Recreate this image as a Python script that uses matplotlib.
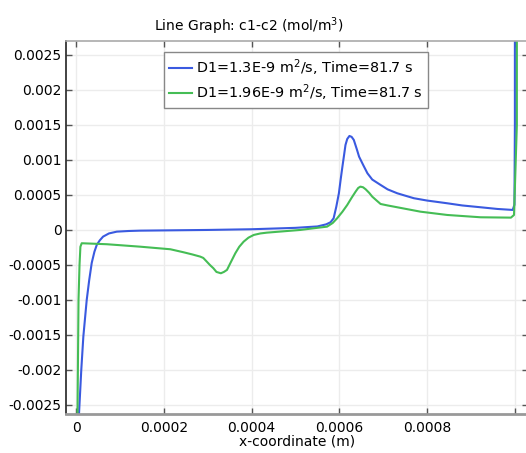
import matplotlib
matplotlib.use('Agg')
import matplotlib.pyplot as plt

# D1=1.3E-9 m^2/s curve
x_blue = [0.0000062, 0.0000068, 0.0000120, 0.0000167, 0.0000244, 0.0000300, 0.0000358,
          0.0000420, 0.0000473, 0.000054, 0.0000616, 0.000075, 0.0000929, 0.00012,
          0.000146, 0.00030, 0.00040, 0.00050, 0.00055, 0.00057, 0.00058, 0.000587,
          0.000593, 0.000599, 0.000603, 0.000607, 0.000611, 0.000614, 0.000618,
          0.000623, 0.000628, 0.000633, 0.00064, 0.000645, 0.000655, 0.000664,
          0.000675, 0.000694, 0.00071, 0.000732, 0.00075, 0.00077, 0.0008, 0.000846,
          0.00088, 0.000922, 0.00096, 0.000995, 0.000999, 0.0010, 0.0010]
y_blue = [-0.0030, -0.00263, -0.0020, -0.001524, -0.0010, -0.00072, -0.000471,
          -0.00031, -0.000214, -0.00015, -0.0000957, -0.00005, -0.0000243, -0.000015,
          -0.00001, 0.0, 0.00001, 0.00003, 0.00005, 0.00008, 0.00011, 0.000167,
          0.00033, 0.000524, 0.00072, 0.000904, 0.00108, 0.001214, 0.0013,
          0.001343, 0.00133, 0.001286, 0.00115, 0.001047, 0.00092, 0.00081,
          0.00072, 0.000643, 0.00058, 0.000524, 0.00049, 0.000453, 0.00042, 0.000381,
          0.00035, 0.000324, 0.0003, 0.000286, 0.00036, 0.0015, 0.0030]

# D1=1.96E-9 m^2/s curve
x_green = [0.0000030, 0.0000034, 0.0000057, 0.0000080, 0.0000100, 0.000013, 0.00007,
           0.000146, 0.000215, 0.000245, 0.000265, 0.000283, 0.00029, 0.000298,
           0.000305, 0.000313, 0.00032, 0.00033, 0.000337, 0.000344, 0.000352,
           0.000363, 0.000372, 0.000382, 0.000393, 0.000405, 0.00042, 0.000435,
           0.000511, 0.000542, 0.000572, 0.000585, 0.000595, 0.000607, 0.000618,
           0.000628, 0.000637, 0.000643, 0.000648, 0.000654, 0.00066, 0.000668,
           0.000675, 0.000685, 0.000694, 0.00071, 0.000732, 0.000785, 0.000846,
           0.000922, 0.000991, 0.000998, 0.0010045, 0.0010045]
y_green = [-0.0030, -0.00263, -0.0010, -0.0005, -0.00024, -0.00019, -0.000204,
           -0.000239, -0.000276, -0.000319, -0.00035, -0.000381, -0.0004, -0.000453,
           -0.0005, -0.000547, -0.0006, -0.000619, -0.0006, -0.000571, -0.00047,
           -0.000333, -0.00024, -0.000167, -0.00011, -0.0000714, -0.00005, -0.0000386,
           0.0, 0.0000243, 0.0000471, 0.0001, 0.000167, 0.00026, 0.000357,
           0.00046, 0.000547, 0.0006, 0.000619, 0.00061, 0.000581, 0.00053,
           0.000476, 0.00042, 0.000371, 0.00035, 0.000324, 0.000261, 0.000214,
           0.000181, 0.000176, 0.000214, 0.0015, 0.0030]

x_ticks = [0, 0.0002, 0.0004, 0.0006, 0.0008, 0.001]
x_labels = ['0', '0.0002', '0.0004', '0.0006', '0.0008', '']
y_ticks = [0.0025, 0.002, 0.0015, 0.001, 0.0005, 0, -0.0005, -0.001, -0.0015, -0.002, -0.0025]
y_labels = ['0.0025', '0.002', '0.0015', '0.001', '0.0005', '0', '-0.0005', '-0.001',
            '-0.0015', '-0.002', '-0.0025']

fig = plt.figure(figsize=(5.26, 4.53), dpi=100)
ax = fig.add_axes([0.1249, 0.0861, 0.879, 0.8234])

ax.plot(x_blue, y_blue, color='#3a5ae0', linewidth=1.5, label='D1=1.3E-9 m$^2$/s, Time=81.7 s')
ax.plot(x_green, y_green, color='#45bd55', linewidth=1.5, label='D1=1.96E-9 m$^2$/s, Time=81.7 s')

ax.set_xlim(-0.0000235, 0.00103)
ax.set_ylim(-0.00263, 0.0027)
ax.set_xticks(x_ticks)
ax.set_xticklabels(x_labels)
ax.set_yticks(y_ticks)
ax.set_yticklabels(y_labels)
ax.grid(True, color='#ececec', linewidth=1)
ax.set_axisbelow(True)

ax.tick_params(axis='both', direction='in', length=4, width=1, color='#555555',
               labelsize=10, top=True, right=True)
ax.tick_params(axis='x', pad=5)
ax.tick_params(axis='y', pad=3)

ax.spines['left'].set_color('#222222')
ax.spines['left'].set_linewidth(1.2)
ax.spines['bottom'].set_color('#999999')
ax.spines['bottom'].set_linewidth(2)
ax.spines['top'].set_color('#aaaaaa')
ax.spines['top'].set_linewidth(1.2)
ax.spines['right'].set_color('#aaaaaa')

ax.set_xlabel('x-coordinate (m)', fontsize=10, labelpad=0)
fig.text(249 / 526, 1 - 26 / 453, 'Line Graph: c1-c2 (mol/m$^3$)', ha='center', va='center', fontsize=10)

leg = ax.legend(loc='upper left', bbox_to_anchor=(0.2126, 0.9705), borderaxespad=0,
                fontsize=10.4, handlelength=1.6, handletextpad=0.3, fancybox=False,
                framealpha=1, edgecolor='#888888', labelspacing=0.3, borderpad=0.35)
leg.get_frame().set_linewidth(1)

fig.savefig('out.png', dpi=100)
